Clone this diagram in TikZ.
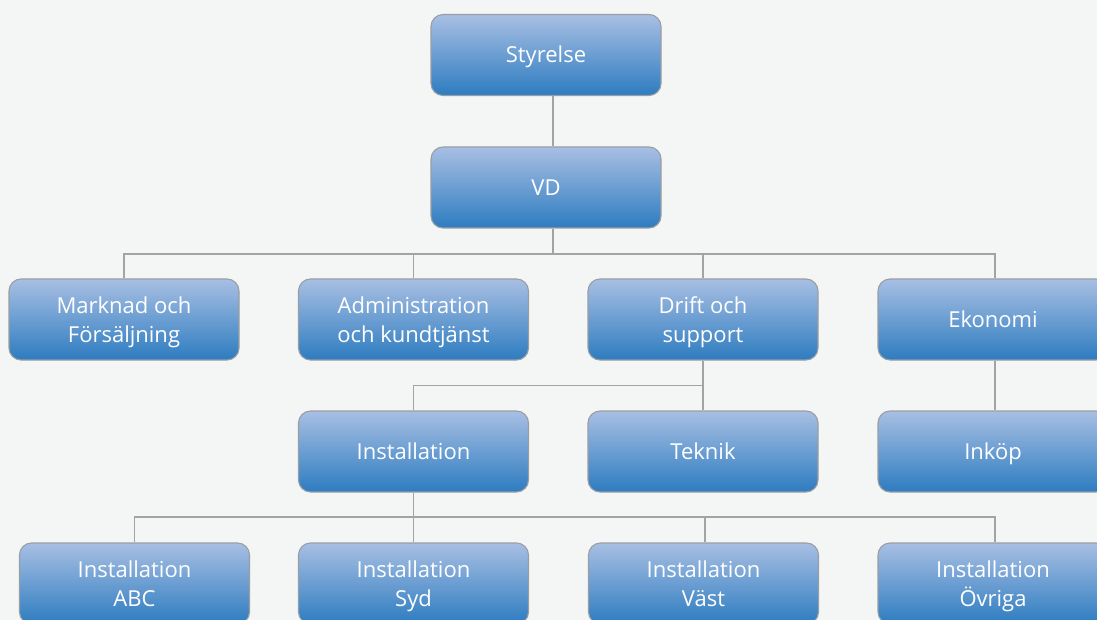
\documentclass[tikz,border=0pt]{standalone}
\usepackage{fontspec}
\setmainfont{Open Sans}
\definecolor{bg}{HTML}{F3F6F5}
\definecolor{boxtop}{HTML}{A8BFE3}
\definecolor{boxbot}{HTML}{2D7CC0}
\definecolor{boxline}{HTML}{9A9EA3}
\definecolor{conn}{HTML}{A3A3A3}
\newcommand\lnstrut{\rule[-6pt]{0pt}{28pt}}
\tikzset{
  orgbox/.style={rectangle, rounded corners=12pt, minimum width=230pt, minimum height=81pt,
    draw=boxline, line width=1.1pt, top color=boxtop, bottom color=boxbot, text=white,
    font=\fontsize{22}{29}\selectfont, align=center, inner sep=0pt},
  link/.style={draw=conn, line width=1.4pt}
}
\begin{document}
\begin{tikzpicture}[x=1pt,y=-1pt]
\fill[bg] (0,0) rectangle (1097,620);
\useasboundingbox (0,0) rectangle (1097,620);
\clip (0,0) rectangle (1097,620);
% nodes
\node[orgbox] (sty) at (546,55) {\lnstrut Styrelse};
\node[orgbox] (vd) at (546,187.5) {\lnstrut VD};
\node[orgbox] (mark) at (124,319.5) {\lnstrut Marknad och\\\lnstrut Försäljning};
\node[orgbox] (adm) at (413.5,319.5) {\lnstrut Administration\\\lnstrut och kundtjänst};
\node[orgbox] (drift) at (703,319.5) {\lnstrut Drift och\\\lnstrut support};
\node[orgbox] (eko) at (993,319.5) {\lnstrut Ekonomi};
\node[orgbox] (inst) at (413.5,451.5) {\lnstrut Installation};
\node[orgbox] (tek) at (703,451.5) {\lnstrut Teknik};
\node[orgbox] (ink) at (993,451.5) {\lnstrut Inköp};
\node[orgbox] (abc) at (134.5,583.5) {\lnstrut Installation\\\lnstrut ABC};
\node[orgbox] (syd) at (413.5,583.5) {\lnstrut Installation\\\lnstrut Syd};
\node[orgbox] (vast) at (703.5,583.5) {\lnstrut Installation\\\lnstrut Väst};
\node[orgbox] (ovr) at (993,583.5) {\lnstrut Installation\\\lnstrut Övriga};
% connectors
\coordinate (b1) at (553,254);
\coordinate (b2) at (703,385.5);
\coordinate (b3) at (413.5,517);
\draw[link] ([xshift=7pt]sty.south) -- ([xshift=7pt]vd.north);
\draw[link] ([xshift=7pt]vd.south) -- (b1);
\draw[link] (mark.north) |- (b1);
\draw[link] (adm.north) |- (b1);
\draw[link] (drift.north) |- (b1);
\draw[link] ([xshift=2pt]eko.north) |- (b1);
\draw[link] (drift.south) -- (tek.north);
\draw[link] (inst.north) |- (b2);
\draw[link] ([xshift=2pt]eko.south) -- ([xshift=2pt]ink.north);
\draw[link] (inst.south) -- (syd.north);
\draw[link] (abc.north) |- (b3);
\draw[link] ([xshift=1.5pt]vast.north) |- (b3);
\draw[link] ([xshift=2pt]ovr.north) |- (b3);
\end{tikzpicture}
\end{document}
